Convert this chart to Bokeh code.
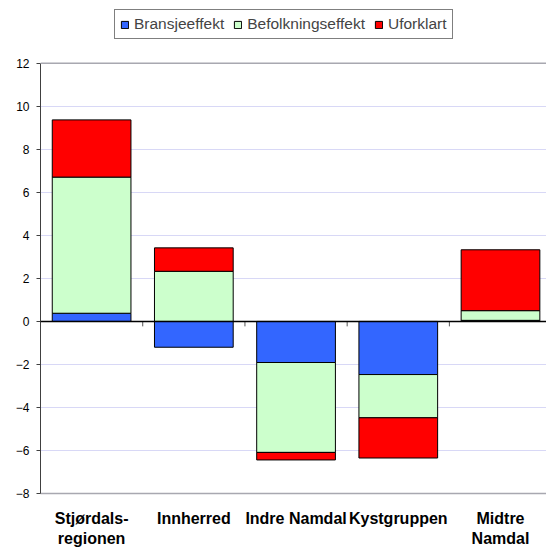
from bokeh.plotting import figure
from bokeh.models import ColumnDataSource, Range1d, FixedTicker, Span, Legend, LegendItem
from bokeh.embed import file_html
from bokeh.resources import INLINE
import numpy as np

categories = ["Stjørdals-\nregionen", "Innherred", "Indre Namdal", "Kystgruppen", "Midtre\nNamdal"]
series_names = ["Bransjeeffekt", "Befolkningseffekt", "Uforklart"]
bransjeeffekt = [0.38, -1.20, -1.91, -2.47, 0.05]
befolkningseffekt = [6.33, 2.33, -4.18, -2.01, 0.45]
uforklart = [2.66, 1.09, -0.35, -1.87, 2.83]
colors = ["#3366FF", "#CCFFCC", "#FF0000"]
y_ticks = list(range(-8, 13, 2))
y_min, y_max = -8, 12

n = len(categories)
xs = np.arange(n) + 0.5

p = figure(width=546, height=549, output_backend="svg", toolbar_location=None,
           x_range=Range1d(0, 4.95), y_range=Range1d(y_min, 14.92),
           min_border_left=40, min_border_right=0, min_border_top=0, min_border_bottom=52)
p.background_fill_color = "white"
p.border_fill_color = "white"
p.outline_line_color = None

pos = np.zeros(n)
neg = np.zeros(n)
renderers = []
for name, vals, col in zip(series_names, [bransjeeffekt, befolkningseffekt, uforklart], colors):
    v = np.array(vals)
    bottom = np.where(v >= 0, pos, neg + v)
    top = np.where(v >= 0, pos + v, neg)
    pos = np.where(v >= 0, pos + v, pos)
    neg = np.where(v < 0, neg + v, neg)
    src = ColumnDataSource(dict(x=xs, bottom=bottom, top=top))
    r = p.vbar(x="x", bottom="bottom", top="top", width=0.77, source=src,
               fill_color=col, line_color="black", line_width=1)
    renderers.append(r)

# zero line and category separators
p.add_layout(Span(location=0, dimension="width", line_color="black", line_width=1.5))
sep = np.arange(1, n)
p.segment(x0=sep, x1=sep, y0=np.zeros(n - 1), y1=np.full(n - 1, -0.23),
          line_color="#555555", line_width=1)
p.add_layout(Span(location=y_max, dimension="width", line_color="#a8a8b0", line_width=1.5))

# grids
p.xgrid.grid_line_color = None
p.ygrid.ticker = FixedTicker(ticks=y_ticks)
p.ygrid.grid_line_color = "#d8d8f6"
p.ygrid.grid_line_width = 1

# y axis
p.yaxis.ticker = FixedTicker(ticks=y_ticks)
p.yaxis.bounds = (y_min, y_max)
p.yaxis.axis_line_color = "#404040"
p.yaxis.major_tick_line_color = "#404040"
p.yaxis.major_tick_out = 4
p.yaxis.major_tick_in = 0
p.yaxis.minor_tick_line_color = None
p.yaxis.major_label_text_font = "Liberation Sans"
p.yaxis.major_label_text_font_size = "12px"
p.yaxis.major_label_text_color = "black"
p.yaxis.major_label_standoff = 7

# x axis
p.xaxis.ticker = FixedTicker(ticks=list(xs))
p.xaxis.major_label_overrides = {float(x): c for x, c in zip(xs, categories)}
p.xaxis.axis_line_color = "#a8a8b0"
p.xaxis.axis_line_width = 1.5
p.xaxis.major_tick_line_color = None
p.xaxis.minor_tick_line_color = None
p.xaxis.major_label_text_font = "Liberation Sans"
p.xaxis.major_label_text_font_size = "16px"
p.xaxis.major_label_text_font_style = "bold"
p.xaxis.major_label_text_line_height = 1.2
p.xaxis.major_label_text_color = "black"
p.xaxis.major_label_standoff = 10

legend = Legend(items=[LegendItem(label=nm, renderers=[r]) for nm, r in zip(series_names, renderers)],
                orientation="horizontal", location=(74, 454))
legend.label_text_font = "Liberation Sans"
legend.label_text_font_size = "15.5px"
legend.glyph_width = 9
legend.glyph_height = 9
legend.label_standoff = 5
legend.spacing = 9
legend.padding = 5
legend.margin = 0
legend.label_height = 18
legend.border_line_color = "black"
legend.border_line_width = 1
legend.background_fill_alpha = 1
p.add_layout(legend, "center")

open("out.html", "w").write(file_html(p, INLINE))
